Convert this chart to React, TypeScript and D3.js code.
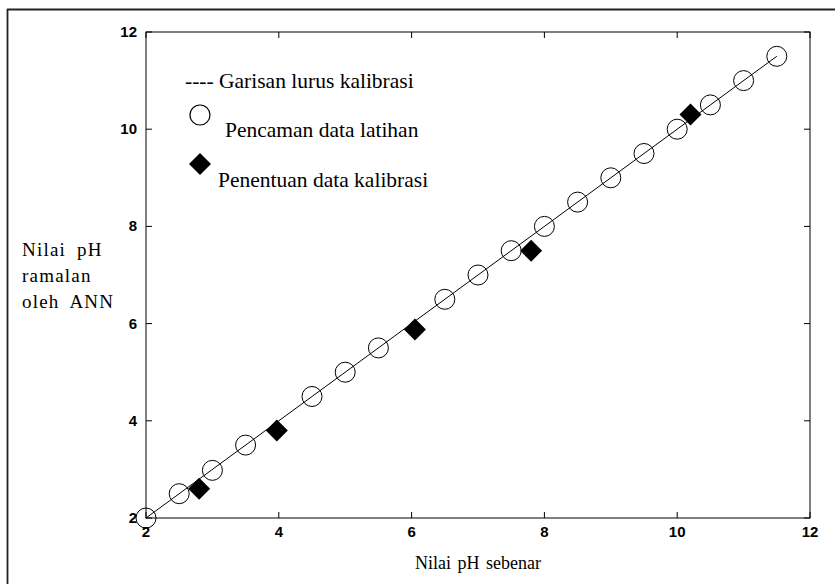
import React from "react";
import * as d3 from "d3";

// Actual pH (x) vs ANN-predicted pH (y)
const trainX = [2, 2.5, 3, 3.5, 4.5, 5, 5.5, 6.5, 7, 7.5, 8, 8.5, 9, 9.5, 10, 10.5, 11, 11.5];
const trainY = [2, 2.5, 2.98, 3.5, 4.5, 5, 5.5, 6.5, 7, 7.5, 8, 8.5, 9, 9.5, 10, 10.5, 11, 11.5];
const calibX = [2.8, 3.97, 6.05, 7.8, 10.2];
const calibY = [2.6, 3.8, 5.88, 7.5, 10.3];
const fitX = [2, 11.5];
const fitY = [2, 11.5];
const tickValues = [2, 4, 6, 8, 10, 12];
const legendLabels = ["Garisan lurus kalibrasi", "Pencaman data latihan", "Penentuan data kalibrasi"];
const xTitle = "Nilai pH sebenar";
const yTitle = ["Nilai pH", "ramalan", "oleh ANN"];

const W = 835;
const H = 584;
const plot = { left: 146, right: 810, top: 32, bottom: 518 };

export default function App() {
  const x = d3.scaleLinear().domain([2, 12]).range([plot.left, plot.right]);
  const y = d3.scaleLinear().domain([2, 12]).range([plot.bottom, plot.top]);

  const fitLine = d3
    .line<number>()
    .x((d) => x(d))
    .y((_, i) => y(fitY[i]))(fitX) as string;

  const diamond = (cx: number, cy: number, r: number) =>
    `M${cx},${cy - r}L${cx + r},${cy}L${cx},${cy + r}L${cx - r},${cy}Z`;

  const tickLen = 6;
  const tickFont = "Liberation Sans, Arial, sans-serif";
  const serif = "Liberation Serif, Times New Roman, serif";

  return (
    <svg
      width={W}
      height={H}
      style={{ position: "absolute", left: 0, top: 0, background: "#fff" }}
    >
      {/* outer frame */}
      <line x1={7} y1={9.5} x2={835} y2={9.5} stroke="#222" strokeWidth={1.8} />
      <line x1={7.5} y1={9} x2={7.5} y2={584} stroke="#222" strokeWidth={1.8} />

      {/* plot box */}
      <rect
        x={plot.left}
        y={plot.top}
        width={plot.right - plot.left}
        height={plot.bottom - plot.top}
        fill="none"
        stroke="#000"
        strokeWidth={1}
      />

      {/* inward ticks on all four sides */}
      {tickValues.map((t) => (
        <g key={"t" + t} stroke="#000" strokeWidth={1}>
          <line x1={x(t)} x2={x(t)} y1={plot.bottom} y2={plot.bottom - tickLen} />
          <line x1={x(t)} x2={x(t)} y1={plot.top} y2={plot.top + tickLen} />
          <line x1={plot.left} x2={plot.left + tickLen} y1={y(t)} y2={y(t)} />
          <line x1={plot.right} x2={plot.right - tickLen} y1={y(t)} y2={y(t)} />
        </g>
      ))}

      {/* tick labels */}
      {tickValues.map((t) => (
        <text
          key={"xl" + t}
          x={x(t)}
          y={plot.bottom + 19}
          textAnchor="middle"
          fontFamily={tickFont}
          fontWeight="bold"
          fontSize={15}
        >
          {t}
        </text>
      ))}
      {tickValues.map((t) => (
        <text
          key={"yl" + t}
          x={plot.left - 9}
          y={y(t) + 5}
          textAnchor="end"
          fontFamily={tickFont}
          fontWeight="bold"
          fontSize={15}
        >
          {t}
        </text>
      ))}

      {/* calibration line */}
      <path d={fitLine} fill="none" stroke="#000" strokeWidth={1} />

      {/* training data */}
      {trainX.map((v, i) => (
        <circle
          key={"c" + i}
          cx={x(v)}
          cy={y(trainY[i])}
          r={10}
          fill="none"
          stroke="#000"
          strokeWidth={1}
        />
      ))}

      {/* calibration data */}
      {calibX.map((v, i) => (
        <path key={"d" + i} d={diamond(x(v), y(calibY[i]), 11)} fill="#000" />
      ))}

      {/* legend */}
      <g fontFamily={serif} fontSize={21.5} fill="#000">
        <text x={185} y={88}>
          {"---- " + legendLabels[0]}
        </text>
        <circle cx={200} cy={115} r={10} fill="none" stroke="#000" strokeWidth={1.2} />
        <text x={225} y={137}>
          {legendLabels[1]}
        </text>
        <path d={diamond(200, 164, 11)} fill="#000" />
        <text x={218} y={187}>
          {legendLabels[2]}
        </text>
      </g>

      {/* axis titles */}
      <text
        x={(plot.left + plot.right) / 2}
        y={569}
        textAnchor="middle"
        fontFamily={serif}
        fontSize={18}
        wordSpacing={2}
      >
        {xTitle}
      </text>
      {yTitle.map((s, i) => (
        <text
          key={"yt" + i}
          x={22}
          y={256 + i * 26}
          fontFamily={serif}
          fontSize={19}
          letterSpacing={1.2}
          wordSpacing={5}
        >
          {s}
        </text>
      ))}
    </svg>
  );
}
